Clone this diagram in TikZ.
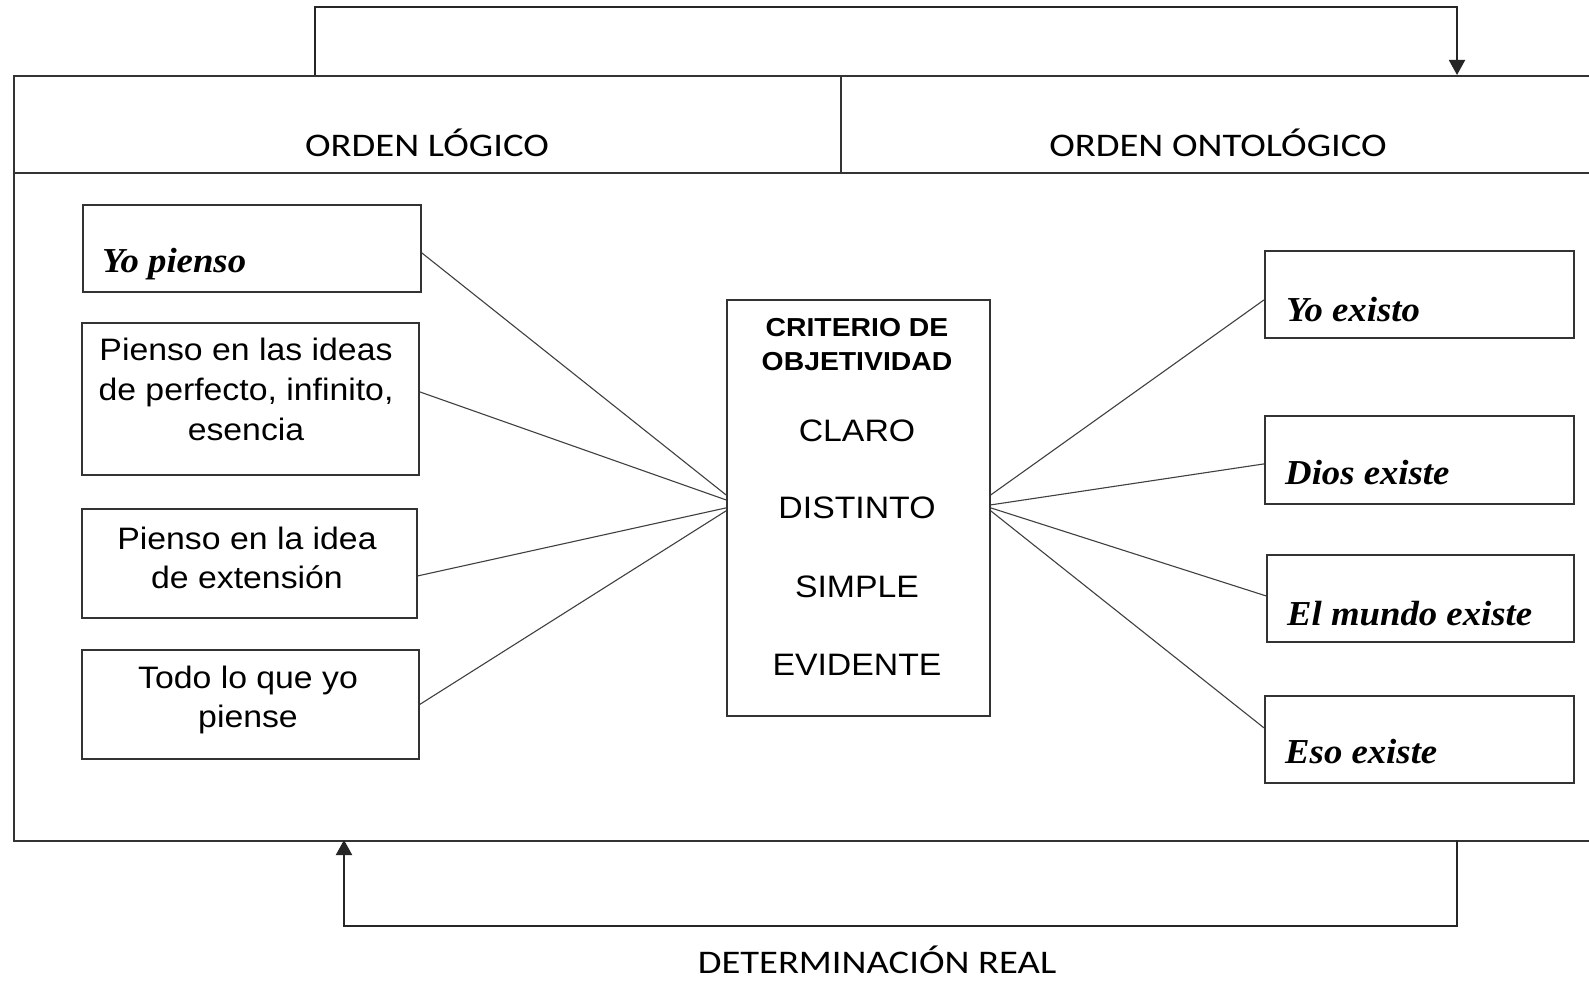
\documentclass[tikz,border=0pt]{standalone}
\usepackage{fontspec}
\usetikzlibrary{arrows.meta,calc}
\newfontfamily\arialf{Liberation Sans}[FakeStretch=1.09]
\newfontfamily\calf{Carlito}[FakeStretch=1.17]
\newfontfamily\cambf{Liberation Serif}[FakeStretch=1.05]
\tikzset{
  frame/.style={draw=black!80, line width=2pt, inner sep=0pt, anchor=north west},
  box/.style={draw=black!80, line width=1.8pt, inner sep=0pt, anchor=north west},
  conn/.style={draw=black!75, line width=1.1pt},
  arr/.style={draw=black!85, line width=2pt, -{Triangle[width=16pt,length=15pt]}},
  txt/.style={inner sep=0pt, anchor=base, font=\arialf\fontsize{31}{37}\selectfont},
  btxt/.style={inner sep=0pt, anchor=base, font=\arialf\bfseries\fontsize{26}{31}\selectfont},
  itxt/.style={inner sep=0pt, anchor=base west, font=\cambf\bfseries\itshape\fontsize{35}{40}\selectfont},
  htxt/.style={inner sep=0pt, anchor=base, font=\calf\fontsize{33}{40}\selectfont}
}
\begin{document}
\begin{tikzpicture}[x=1pt,y=-1pt]
\useasboundingbox (0,0) rectangle (1589,995);
\clip (0,0) rectangle (1589,995);
\fill[white] (0,0) rectangle (1589,995);
% frame
\node[frame, minimum width=827pt, minimum height=97pt] (hl) at (13,75) {};
\node[frame, minimum width=770pt, minimum height=97pt] (hr) at (840,75) {};
\node[frame, minimum width=1597pt, minimum height=668pt] (body) at (13,172) {};
\node[htxt] (hlt) at (427,157) {ORDEN LÓGICO};
\node[htxt] (hrt) at (1218,157) {ORDEN ONTOLÓGICO};
% arrows
\coordinate (tA) at (315,75);
\coordinate (tB) at (1457,75);
\draw[arr] (tA) -- ++(0,-68) -| (tB);
\coordinate (bA) at (1457,840);
\coordinate (bB) at (344,840);
\draw[arr] (bA) -- ++(0,86) -| (bB);
\node[htxt] (det) at (877,973) {DETERMINACIÓN REAL};
% left boxes
\node[box, minimum width=338pt, minimum height=87pt] (l1) at (82,204) {};
\node[itxt] (l1t) at (102,272) {Yo pienso};
\node[box, minimum width=337pt, minimum height=152pt] (l2) at (81,322) {};
\node[txt] (l2a) at (246,360) {Pienso en las ideas};
\node[txt] (l2b) at (246,400) {de perfecto, infinito,};
\node[txt] (l2c) at (246,440) {esencia};
\node[box, minimum width=335pt, minimum height=109pt] (l3) at (81,508) {};
\node[txt] (l3a) at (247,549) {Pienso en la idea};
\node[txt] (l3b) at (247,588) {de extensión};
\node[box, minimum width=337pt, minimum height=109pt] (l4) at (81,649) {};
\node[txt] (l4a) at (248,688) {Todo lo que yo};
\node[txt] (l4b) at (248,727) {piense};
% center
\node[box, minimum width=263pt, minimum height=416pt] (c) at (726,299) {};
\node[btxt] (c1) at (857,336) {CRITERIO DE};
\node[btxt] (c2) at (857,370) {OBJETIVIDAD};
\node[txt] (c3) at (857,441) {CLARO};
\node[txt] (c4) at (857,518) {DISTINTO};
\node[txt] (c5) at (857,597) {SIMPLE};
\node[txt] (c6) at (857,675) {EVIDENTE};
% right boxes
\node[box, minimum width=309pt, minimum height=87pt] (r1) at (1264,250) {};
\node[itxt] (r1t) at (1286,321) {Yo existo};
\node[box, minimum width=309pt, minimum height=88pt] (r2) at (1264,415) {};
\node[itxt] (r2t) at (1285,484) {Dios existe};
\node[box, minimum width=307pt, minimum height=87pt] (r3) at (1266,554) {};
\node[itxt] (r3t) at (1287,625) {El mundo existe};
\node[box, minimum width=309pt, minimum height=87pt] (r4) at (1264,695) {};
\node[itxt] (r4t) at (1285,763) {Eso existe};
% connectors
\draw[conn] ($(l1.east)+(0,4.5)$) -- ($(c.west)+(0,-13)$);
\draw[conn] ($(l2.east)+(0,-7)$) -- ($(c.west)+(0,-8)$);
\draw[conn] ($(l3.east)+(0,12.5)$) -- ($(c.west)+(0,0)$);
\draw[conn] ($(l4.east)+(0,0)$) -- ($(c.west)+(0,3)$);
\draw[conn] ($(c.east)+(0,-13)$) -- ($(r1.west)+(0,5.5)$);
\draw[conn] ($(c.east)+(0,-3)$) -- ($(r2.west)+(0,4)$);
\draw[conn] ($(c.east)+(0,0)$) -- ($(r3.west)+(0,-2.5)$);
\draw[conn] ($(c.east)+(0,3)$) -- ($(r4.west)+(0,-11.5)$);
\end{tikzpicture}
\end{document}
